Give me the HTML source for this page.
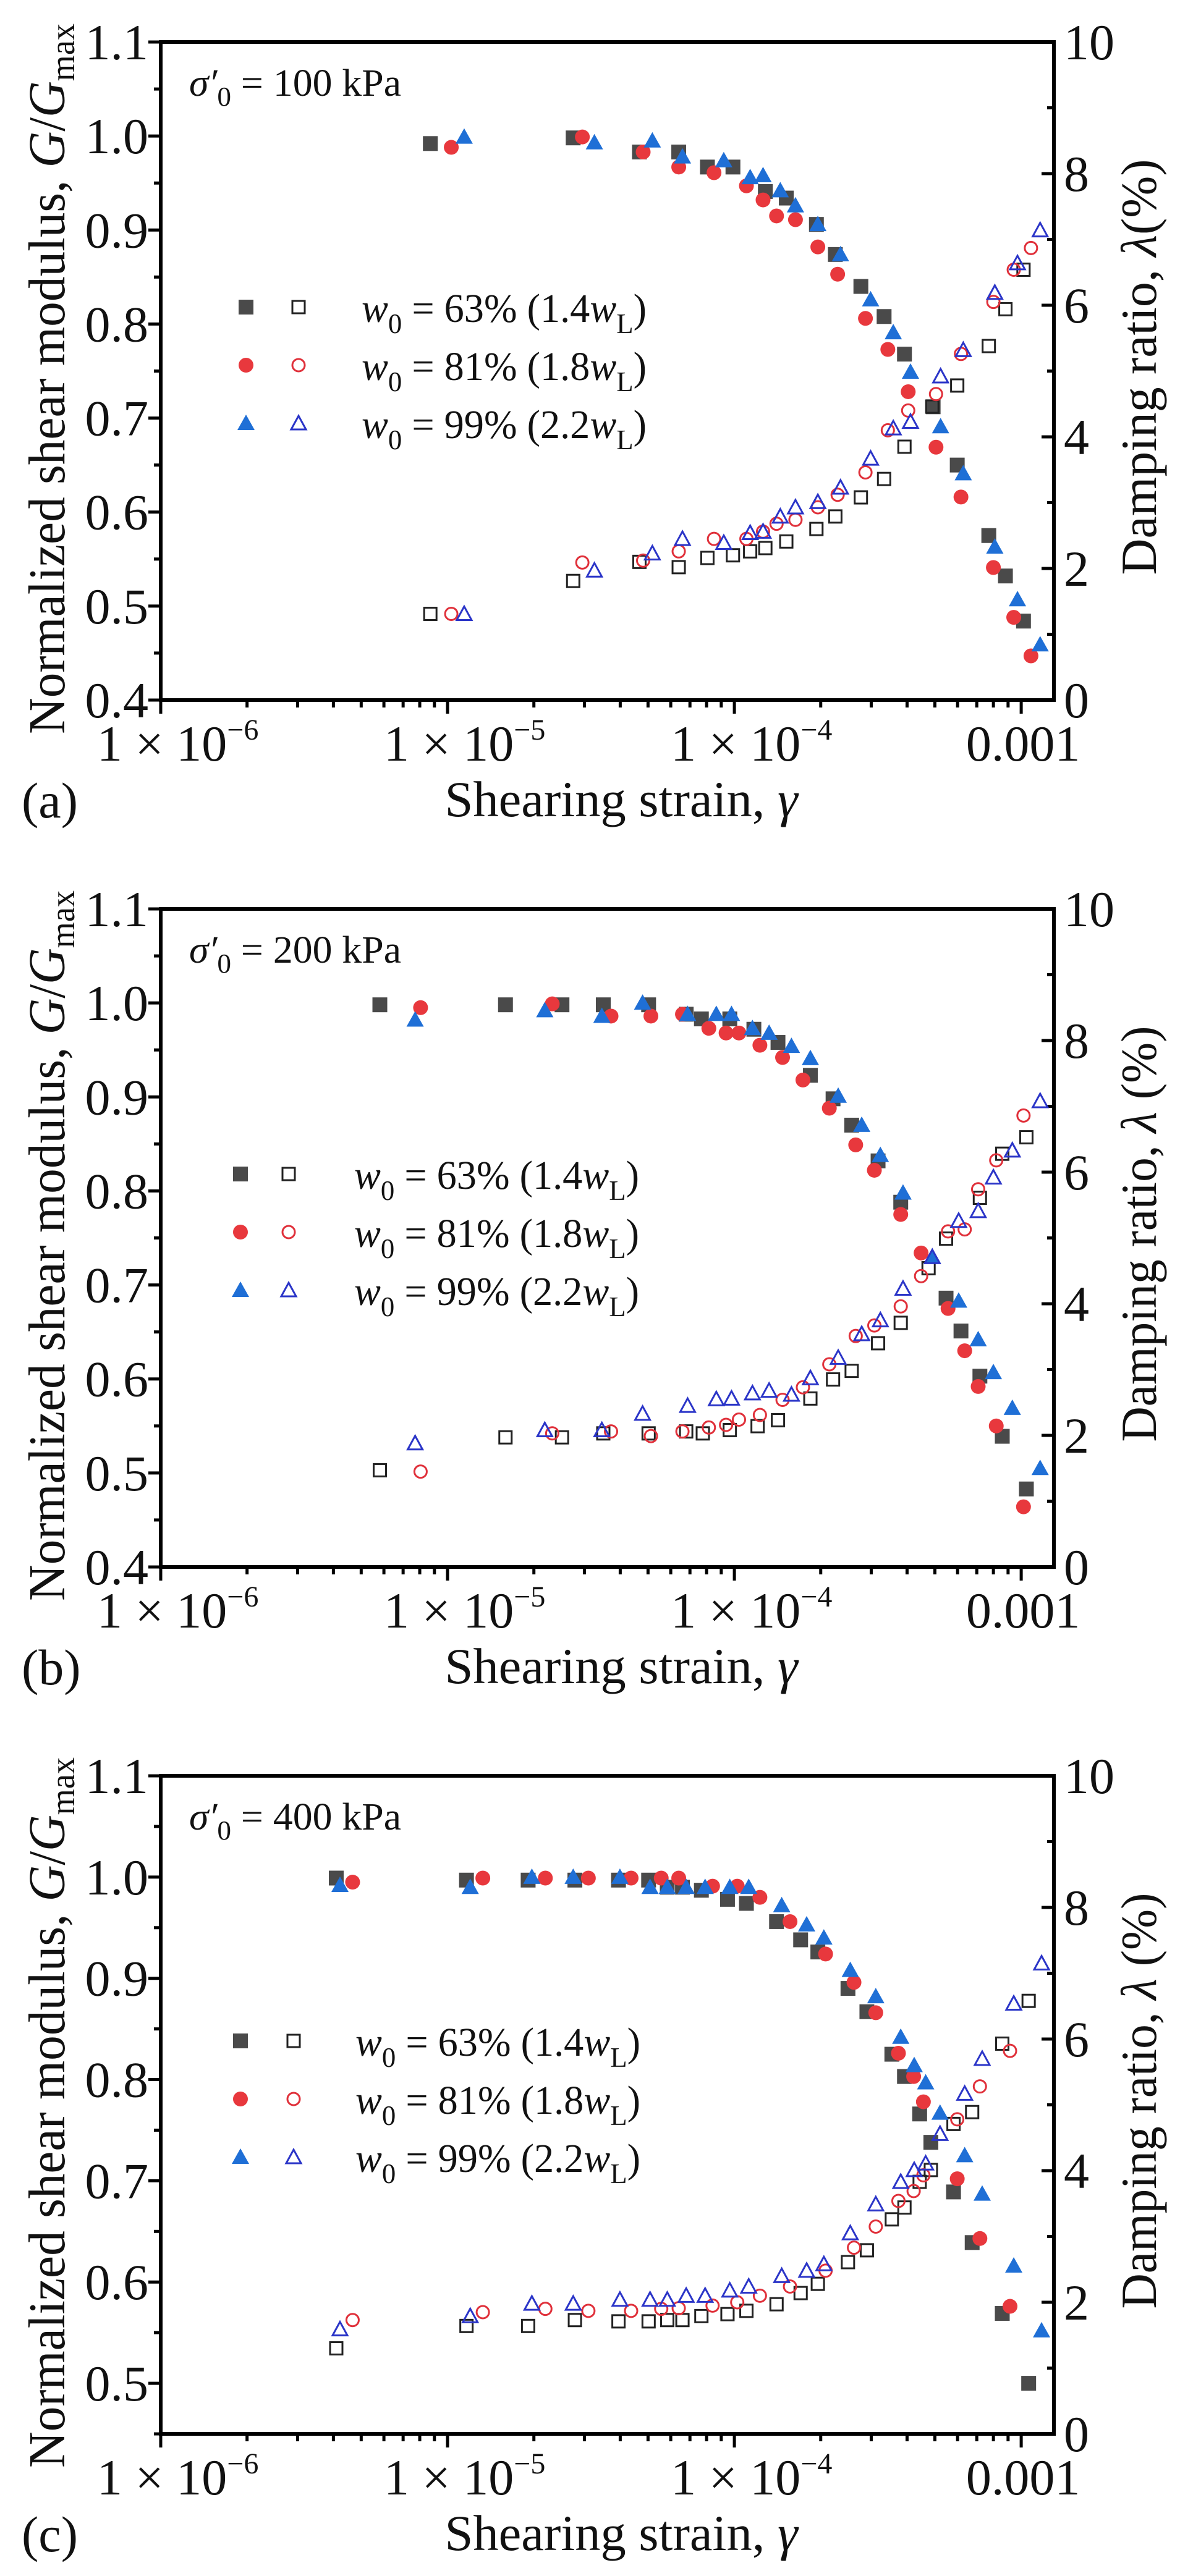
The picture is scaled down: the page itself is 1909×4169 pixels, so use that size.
<!DOCTYPE html>
<html><head><meta charset="utf-8"><style>
html,body{margin:0;padding:0;background:#fff;}
svg{display:block;}
svg text{font-family:"Liberation Serif","DejaVu Serif",serif;}
</style></head><body>
<svg id="fig" xmlns="http://www.w3.org/2000/svg" width="1909" height="4169" viewBox="0 0 1909 4169" font-family="Liberation Serif, DejaVu Serif, serif">
<rect x="0" y="0" width="1909" height="4169" fill="#fff"/>
</svg>
<script>
// ---------- Panel (a) data: sigma'0 = 100 kPa ----------
const aSqStrainG = [-5.06,-4.562,-4.331,-4.194,-4.094,-4.005,-3.892,-3.819,-3.714,-3.648,-3.559,-3.478,-3.407,-3.307,-3.223,-3.113,-3.055,-2.992];
const aSqG = [0.992,0.998,0.983,0.983,0.967,0.967,0.941,0.934,0.906,0.874,0.840,0.808,0.768,0.712,0.650,0.575,0.532,0.484];
const aSqStrainD = [-5.06,-4.562,-4.331,-4.194,-4.094,-4.005,-3.945,-3.892,-3.819,-3.714,-3.648,-3.559,-3.478,-3.407,-3.310,-3.223,-3.113,-3.055,-2.992];
const aSqD = [1.31,1.81,2.10,2.02,2.16,2.20,2.26,2.31,2.41,2.60,2.79,3.08,3.36,3.85,4.46,4.78,5.38,5.94,6.54];
const aCiStrain = [-4.987,-4.530,-4.318,-4.194,-4.071,-3.958,-3.900,-3.853,-3.787,-3.709,-3.640,-3.543,-3.465,-3.394,-3.297,-3.210,-3.097,-3.026,-2.966];
const aCiG = [0.988,0.999,0.983,0.967,0.961,0.947,0.932,0.915,0.911,0.882,0.853,0.806,0.773,0.728,0.669,0.616,0.541,0.488,0.447];
const aCiD = [1.31,2.09,2.12,2.26,2.45,2.45,2.56,2.68,2.74,2.93,3.12,3.46,4.10,4.40,4.65,5.26,6.05,6.54,6.87];
const aTrStrain = [-4.942,-4.488,-4.286,-4.181,-4.037,-3.945,-3.900,-3.840,-3.787,-3.709,-3.630,-3.525,-3.446,-3.386,-3.281,-3.202,-3.092,-3.013,-2.934];
const aTrG = [0.999,0.993,0.995,0.978,0.974,0.956,0.958,0.942,0.926,0.906,0.874,0.826,0.791,0.749,0.691,0.641,0.563,0.507,0.459];
const aTrD = [1.31,1.97,2.23,2.45,2.39,2.54,2.56,2.79,2.93,3.01,3.23,3.67,4.13,4.23,4.92,5.32,6.19,6.64,7.14];
// ---------- Panel (b) data: sigma'0 = 200 kPa ----------
const bSqStrainG = [-5.236,-4.798,-4.601,-4.457,-4.299,-4.168,-4.115,-4.016,-3.932,-3.848,-3.735,-3.656,-3.591,-3.499,-3.420,-3.262,-3.210,-3.144,-3.066,-2.982];
const bSqG = [0.998,0.998,0.998,0.998,0.998,0.988,0.983,0.983,0.972,0.958,0.923,0.898,0.870,0.832,0.788,0.686,0.651,0.603,0.539,0.483];
const bSqStrainD = [-5.236,-4.798,-4.601,-4.457,-4.299,-4.168,-4.110,-4.016,-3.919,-3.848,-3.735,-3.656,-3.591,-3.499,-3.420,-3.323,-3.262,-3.144,-3.066,-2.982];
const bSqD = [1.47,1.97,1.97,2.03,2.03,2.06,2.03,2.08,2.14,2.23,2.56,2.85,2.98,3.40,3.71,4.54,4.99,5.61,6.28,6.53];
const bCiStrain = [-5.094,-4.635,-4.430,-4.291,-4.181,-4.089,-4.029,-3.984,-3.911,-3.832,-3.761,-3.669,-3.577,-3.512,-3.420,-3.349,-3.255,-3.197,-3.150,-3.087,-2.992];
const bCiG = [0.995,0.999,0.986,0.986,0.988,0.973,0.968,0.968,0.955,0.942,0.918,0.888,0.849,0.822,0.775,0.734,0.675,0.630,0.592,0.550,0.464];
const bCiD = [1.45,2.03,2.06,1.99,2.06,2.12,2.16,2.24,2.31,2.54,2.73,3.08,3.51,3.67,3.96,4.42,5.10,5.13,5.74,6.18,6.86];
const bTrStrain = [-5.113,-4.661,-4.462,-4.320,-4.163,-4.063,-4.010,-3.937,-3.879,-3.801,-3.735,-3.638,-3.556,-3.491,-3.412,-3.310,-3.218,-3.150,-3.097,-3.031,-2.934];
const bTrG = [0.982,0.992,0.986,1.000,0.988,0.988,0.988,0.973,0.968,0.954,0.941,0.901,0.870,0.838,0.798,0.730,0.683,0.642,0.607,0.569,0.505];
const bTrD = [1.88,2.08,2.08,2.33,2.45,2.55,2.56,2.64,2.68,2.62,2.87,3.18,3.54,3.75,4.23,4.71,5.26,5.41,5.92,6.33,7.08];
// ---------- Panel (c) data: sigma'0 = 400 kPa ----------
const cSqStrain = [-5.388,-4.934,-4.719,-4.556,-4.404,-4.299,-4.234,-4.181,-4.115,-4.024,-3.958,-3.853,-3.769,-3.709,-3.604,-3.538,-3.451,-3.407,-3.354,-3.315,-3.236,-3.171,-3.066,-2.974];
const cSqG = [0.999,0.997,0.997,0.997,0.997,0.997,0.990,0.990,0.987,0.978,0.974,0.956,0.938,0.926,0.890,0.867,0.825,0.803,0.766,0.738,0.689,0.639,0.569,0.500];
const cSqD = [1.30,1.64,1.64,1.73,1.71,1.71,1.73,1.73,1.79,1.82,1.87,1.97,2.14,2.28,2.61,2.79,3.26,3.44,3.83,4.01,4.71,4.89,5.93,6.58];
const cCiStrain = [-5.331,-4.877,-4.659,-4.509,-4.360,-4.255,-4.194,-4.076,-3.990,-3.911,-3.806,-3.682,-3.583,-3.507,-3.428,-3.375,-3.341,-3.223,-3.144,-3.039];
const cCiG = [0.995,0.999,0.999,0.999,0.999,0.999,0.999,0.991,0.991,0.980,0.956,0.924,0.896,0.866,0.826,0.803,0.778,0.702,0.643,0.576];
const cCiD = [1.73,1.85,1.90,1.87,1.87,1.90,1.91,1.95,2.00,2.10,2.24,2.48,2.83,3.15,3.54,3.69,3.93,4.78,5.28,5.82];
const cTrStrain = [-5.375,-4.921,-4.706,-4.562,-4.399,-4.294,-4.234,-4.168,-4.102,-4.016,-3.950,-3.835,-3.748,-3.688,-3.596,-3.507,-3.420,-3.373,-3.333,-3.283,-3.197,-3.136,-3.026,-2.929];
const cTrG = [0.992,0.990,1.000,1.000,1.000,0.990,0.990,0.990,0.990,0.990,0.990,0.972,0.953,0.940,0.908,0.882,0.842,0.814,0.797,0.767,0.725,0.687,0.616,0.552];
const cTrD = [1.59,1.79,1.98,1.98,2.04,2.04,2.04,2.10,2.10,2.18,2.24,2.40,2.48,2.58,3.05,3.49,3.83,4.01,4.11,4.56,5.17,5.70,6.54,7.15];
// ---------- Axis tick labels ----------
const xTickExps = [-6,-5,-4];
const xTickLast = "0.001";
const gTicksAB = [0.4,0.5,0.6,0.7,0.8,0.9,1.0,1.1];
const gTicksC = [0.5,0.6,0.7,0.8,0.9,1.0,1.1];
const dTicks = [0,2,4,6,8,10];
const legendLabels = ["63% (1.4", "81% (1.8", "99% (2.2"];
const stressLabels = ["100", "200", "400"];

const NS = "http://www.w3.org/2000/svg";
const svg = document.getElementById("fig");
const FONT = "Liberation Serif, DejaVu Serif, serif";
function mk(tag, attrs, parent) {
  const e = document.createElementNS(NS, tag);
  for (const k in attrs) e.setAttribute(k, attrs[k]);
  if (tag === "text") e.setAttribute("font-family", FONT);
  (parent || svg).appendChild(e);
  return e;
}
const X0 = 260, X1 = 1705, LMIN = -6, LMAX = -2.886, H = 1065;
const COL = {sqF:"#4a4a4a", sqO:"#222", ciF:"#e8383d", ciO:"#e0303a", trF:"#1f6fd6", trO:"#2b35c8"};
function xs(l) { return X0 + (l - LMIN) / (LMAX - LMIN) * (X1 - X0); }

function marker(g, kind, filled, cx, cy) {
  let e;
  if (kind === "sq") {
    e = filled ? mk("rect", {x:cx-12, y:cy-12, width:24, height:24, fill:COL.sqF}, g)
               : mk("rect", {x:cx-10, y:cy-10, width:20, height:20, fill:"none", stroke:COL.sqO, "stroke-width":3}, g);
  } else if (kind === "ci") {
    e = filled ? mk("circle", {cx:cx, cy:cy, r:12, fill:COL.ciF}, g)
               : mk("circle", {cx:cx, cy:cy, r:10, fill:"none", stroke:COL.ciO, "stroke-width":3}, g);
  } else {
    const pts = (cx) + "," + (cy-14) + " " + (cx+14) + "," + (cy+11) + " " + (cx-14) + "," + (cy+11);
    e = filled ? mk("polygon", {points:pts, fill:COL.trF}, g)
               : mk("polygon", {points:(cx)+","+(cy-12)+" "+(cx+12)+","+(cy+10)+" "+(cx-12)+","+(cy+10), fill:"none", stroke:COL.trO, "stroke-width":3}, g);
  }
  return e;
}

function drawSeries(g, kind, filled, strain, vals, ys, name) {
  for (let i = 0; i < strain.length && i < vals.length; i++) {
    const m = marker(g, kind, filled, xs(strain[i]), ys(vals[i]));
    
    
  }
}

function panel(idx, T, gMin, gTicks, series, legendX) {
  const B = T + H;
  const letter = ["a","b","c"][idx];
  const g = mk("g", {});
  
  
  const yG = v => B - (v - gMin) / (1.1 - gMin) * H;
  const yD = v => B - v / 10 * H;

  for (let k = 0; k < gTicks.length; k++) {
    const v = gTicks[k], y = yG(v);
    mk("line", {x1:X0-20, y1:y, x2:X0, y2:y, stroke:"#000", "stroke-width":5}, g);
    if (k < gTicks.length - 1) {
      const ym = yG(v + 0.05);
      mk("line", {x1:X0-11, y1:ym, x2:X0, y2:ym, stroke:"#000", "stroke-width":5}, g);
    }
    const t = mk("text", {x:X0-20, y:y+28, "font-size":82, "text-anchor":"end", fill:"#111"}, g);
    t.textContent = v.toFixed(1);
    
    
  }
  if (gMin < gTicks[0]) {
    const ym = yG(gTicks[0] - 0.05);
    if (ym <= B) mk("line", {x1:X0-11, y1:ym, x2:X0, y2:ym, stroke:"#000", "stroke-width":5}, g);
  }
  for (let k = 0; k < dTicks.length; k++) {
    const v = dTicks[k], y = yD(v);
    mk("line", {x1:X1-20, y1:y, x2:X1, y2:y, stroke:"#000", "stroke-width":5}, g);
    if (k < dTicks.length - 1) {
      const ym = yD(v + 1);
      mk("line", {x1:X1-11, y1:ym, x2:X1, y2:ym, stroke:"#000", "stroke-width":5}, g);
    }
    const t = mk("text", {x:X1+16, y:y+28, "font-size":82, fill:"#111"}, g);
    t.textContent = String(v);
    
    
  }
  for (let d = -6; d <= -3; d++) {
    const x = xs(d);
    mk("line", {x1:x, y1:B, x2:x, y2:B+22, stroke:"#000", "stroke-width":5}, g);
    for (let m = 2; m <= 9; m++) {
      const l = d + Math.log10(m);
      if (l > LMAX) break;
      const xm = xs(l);
      mk("line", {x1:xm, y1:B, x2:xm, y2:B+12, stroke:"#000", "stroke-width":5}, g);
    }
  }
  for (const e of xTickExps) {
    const x = xs(e);
    const t = mk("text", {x:x-103, y:B+98, "font-size":82, fill:"#111"}, g);
    
    
    const s1 = mk("tspan", {}, t); s1.textContent = "1 \u00d7 10";
    const s2 = mk("tspan", {dy:-34, "font-size":48}, t); s2.textContent = "\u2212" + (-e);
  }
  const tl = mk("text", {x:xs(-3)+3, y:B+98, "font-size":82, "text-anchor":"middle", fill:"#111"}, g);
  tl.textContent = xTickLast;
  
  

  drawSeries(g, "sq", true, series.sqSG, series.sqG, yG, "g-63");
  drawSeries(g, "sq", false, series.sqSD, series.sqD, yD, "damping-63");
  drawSeries(g, "ci", true, series.ciS, series.ciG, yG, "g-81");
  drawSeries(g, "ci", false, series.ciS, series.ciD, yD, "damping-81");
  drawSeries(g, "tr", true, series.trS, series.trG, yG, "g-99");
  drawSeries(g, "tr", false, series.trS, series.trD, yD, "damping-99");

  const fr = mk("rect", {x:X0, y:T, width:X1-X0, height:H, fill:"none", stroke:"#000", "stroke-width":6}, g);
  
  

  const an = mk("text", {x:306, y:T+87, "font-size":62, fill:"#111", textLength:343, lengthAdjust:"spacingAndGlyphs"}, g);
  
  
  let s = mk("tspan", {"font-style":"italic"}, an); s.textContent = "\u03c3\u2032";
  s = mk("tspan", {dy:16, "font-size":44}, an); s.textContent = "0";
  s = mk("tspan", {dy:-16}, an); s.textContent = " = " + stressLabels[idx] + " kPa";

  const kinds = ["sq","ci","tr"];
  const rows = [429, 523, 617];
  for (let r = 0; r < 3; r++) {
    const y = T + rows[r];
    const le = mk("g", {}, g);
    
    
    marker(le, kinds[r], true, legendX[0], y);
    marker(le, kinds[r], false, legendX[1], y);
    const t = mk("text", {x:legendX[2], y:y+24, "font-size":66, fill:"#111", textLength:461, lengthAdjust:"spacingAndGlyphs"}, le);
    let a = mk("tspan", {"font-style":"italic"}, t); a.textContent = "w";
    a = mk("tspan", {dy:18, "font-size":46}, t); a.textContent = "0";
    a = mk("tspan", {dy:-18}, t); a.textContent = " = " + legendLabels[r];
    a = mk("tspan", {"font-style":"italic"}, t); a.textContent = "w";
    a = mk("tspan", {dy:18, "font-size":46}, t); a.textContent = "L";
    a = mk("tspan", {dy:-18}, t); a.textContent = ")";
  }

  const xt = mk("text", {x:1005, y:B+188, "font-size":82, "text-anchor":"middle", fill:"#111", textLength:571, lengthAdjust:"spacingAndGlyphs"}, g);
  
  
  s = mk("tspan", {}, xt); s.textContent = "Shearing strain, ";
  s = mk("tspan", {"font-style":"italic"}, xt); s.textContent = "\u03b3";

  const pl = mk("text", {x:35, y:B+190, "font-size":82, fill:"#111"}, g);
  pl.textContent = "(" + letter + ")";
  
  

  const cyL = T + 545;
  const yt = mk("text", {x:0, y:0, "font-size":84, "text-anchor":"middle", fill:"#111", transform:"translate(104," + cyL + ") rotate(-90)", textLength:1150, lengthAdjust:"spacingAndGlyphs"}, g);
  
  
  s = mk("tspan", {}, yt); s.textContent = "Normalized shear modulus, ";
  s = mk("tspan", {"font-style":"italic"}, yt); s.textContent = "G";
  s = mk("tspan", {}, yt); s.textContent = "/";
  s = mk("tspan", {"font-style":"italic"}, yt); s.textContent = "G";
  s = mk("tspan", {dy:16, "font-size":56}, yt); s.textContent = "max";

  const cyR = T + 526;
  const rt = mk("text", {x:0, y:0, "font-size":82, "text-anchor":"middle", fill:"#111", transform:"translate(1870," + cyR + ") rotate(-90)", textLength:673, lengthAdjust:"spacingAndGlyphs"}, g);
  
  
  s = mk("tspan", {}, rt); s.textContent = "Damping ratio, ";
  s = mk("tspan", {"font-style":"italic"}, rt); s.textContent = "\u03bb";
  s = mk("tspan", {}, rt); s.textContent = idx === 0 ? "(%)" : " (%)";
}

panel(0, 68, 0.4, gTicksAB, {sqSG:aSqStrainG, sqG:aSqG, sqSD:aSqStrainD, sqD:aSqD, ciS:aCiStrain, ciG:aCiG, ciD:aCiD, trS:aTrStrain, trG:aTrG, trD:aTrD}, [398, 483, 585]);
panel(1, 1471, 0.4, gTicksAB, {sqSG:bSqStrainG, sqG:bSqG, sqSD:bSqStrainD, sqD:bSqD, ciS:bCiStrain, ciG:bCiG, ciD:bCiD, trS:bTrStrain, trG:bTrG, trD:bTrD}, [389, 467, 573]);
panel(2, 2874, 0.45, gTicksC, {sqSG:cSqStrain, sqG:cSqG, sqSD:cSqStrain, sqD:cSqD, ciS:cCiStrain, ciG:cCiG, ciD:cCiD, trS:cTrStrain, trG:cTrG, trD:cTrD}, [389, 475, 575]);
</script>
</body></html>
